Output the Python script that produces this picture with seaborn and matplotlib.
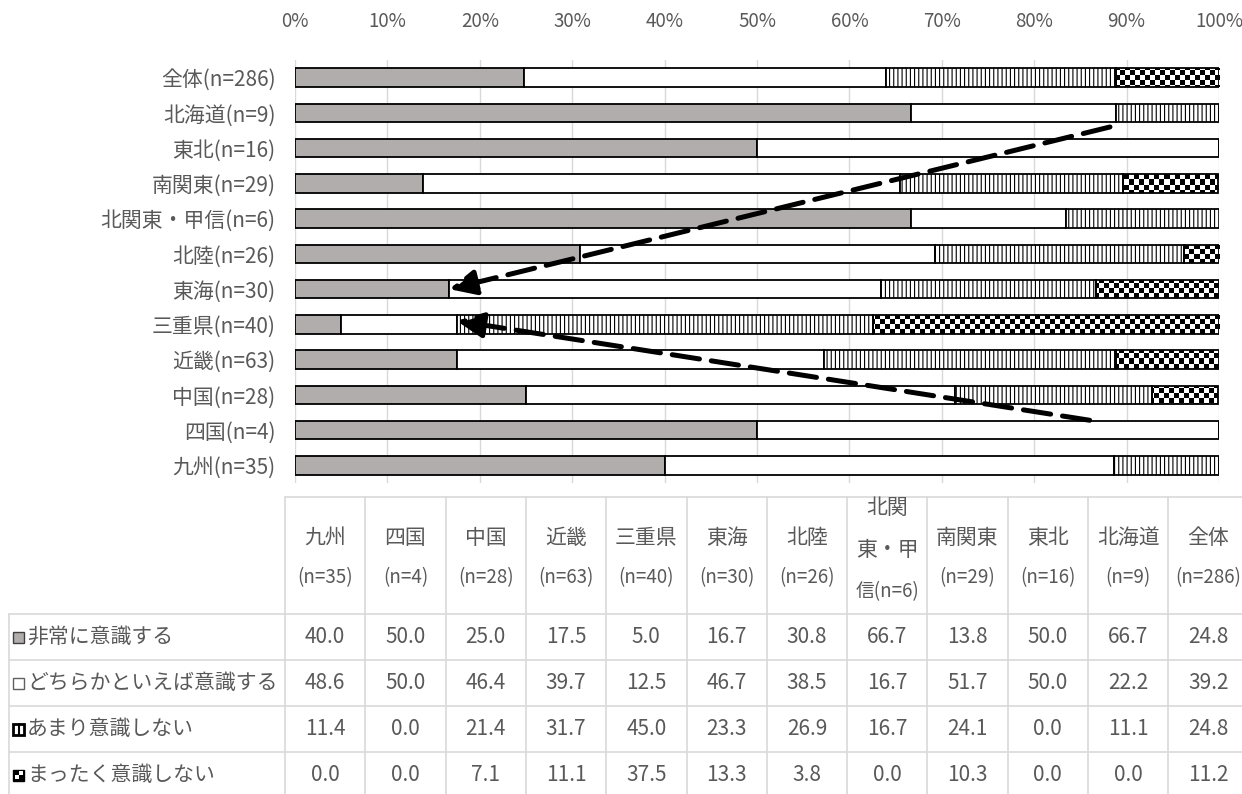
import numpy as np
import pandas as pd
import matplotlib
matplotlib.use("Agg")
import matplotlib.pyplot as plt
from matplotlib.patches import Rectangle
from matplotlib.lines import Line2D
import seaborn as sns

# Regions in table column order; the bar chart lists them in reverse
regions = ["九州", "四国", "中国", "近畿", "三重県", "東海", "北陸",
           "北関東・甲信", "南関東", "東北", "北海道", "全体"]
sample_sizes = [35, 4, 28, 63, 40, 30, 26, 6, 29, 16, 9, 286]

answer_labels = ["非常に意識する", "どちらかといえば意識する",
                 "あまり意識しない", "まったく意識しない"]
very_conscious = [40.0, 50.0, 25.0, 17.5, 5.0, 16.7, 30.8, 66.7, 13.8, 50.0, 66.7, 24.8]
somewhat_conscious = [48.6, 50.0, 46.4, 39.7, 12.5, 46.7, 38.5, 16.7, 51.7, 50.0, 22.2, 39.2]
rarely_conscious = [11.4, 0.0, 21.4, 31.7, 45.0, 23.3, 26.9, 16.7, 24.1, 0.0, 11.1, 24.8]
never_conscious = [0.0, 0.0, 7.1, 11.1, 37.5, 13.3, 3.8, 0.0, 10.3, 0.0, 0.0, 11.2]

pct_ticks = [0, 10, 20, 30, 40, 50, 60, 70, 80, 90, 100]
pct_tick_labels = [f"{t}%" for t in pct_ticks]

series = [very_conscious, somewhat_conscious, rarely_conscious, never_conscious]

sns.set_theme(style="white")
plt.rcParams["font.family"] = ["Noto Sans CJK JP", "DejaVu Sans"]
plt.rcParams["hatch.linewidth"] = 0.8
plt.rcParams["hatch.color"] = "black"

TXT = "#595959"
GRID = "#d9d9d9"
GRAY = "#b1adac"
FS = 15
FS_SMALL = 13.5
W, H = 1242, 794

def fx(px):
    return px / W

def fy(py):
    return 1 - py / H

fig = plt.figure(figsize=(W / 100, H / 100), dpi=100)
ax = fig.add_axes([fx(295), fy(483), (1219 - 295) / W, (483 - 60) / H])

# bar chart frame: one row per region, top to bottom 全体 ... 九州
row_labels = [f"{r}(n={n})" for r, n in zip(regions, sample_sizes)][::-1]
df = pd.DataFrame({"label": row_labels})
for name, vals in zip(answer_labels, series):
    df[name] = vals[::-1]

left = np.zeros(len(df))
styles = [
    dict(color=GRAY),
    dict(color="white"),
    dict(color="white", hatch="||||"),
    dict(color="white"),
]
for name, st in zip(answer_labels, styles):
    sns.barplot(data=df, x=name, y="label", orient="h", left=left,
                width=0.52, saturation=1, errorbar=None,
                edgecolor="black", linewidth=1.3, ax=ax, zorder=3, **st)
    left = left + df[name].to_numpy()

# checkerboard fill for the last answer, clipped to each bar
n_x, n_y = 185, 85
checker = (np.add.outer(np.arange(n_y), np.arange(n_x)) % 2).astype(float)
for patch in ax.containers[-1].patches:
    patch.set_facecolor("none")
    im = ax.imshow(checker, cmap="gray_r", vmin=0, vmax=1, aspect="auto",
                   interpolation="nearest", extent=(0, 100, 11.5, -0.5),
                   zorder=2)
    im.set_clip_path(patch)

ax.set_xlim(0, 100)
ax.set_ylim(11.5, -0.5)
ax.set_xlabel("")
ax.set_ylabel("")
ax.xaxis.tick_top()
ax.set_xticks(pct_ticks)
ax.set_xticklabels(pct_tick_labels)
ax.tick_params(axis="x", length=0, pad=20, labelsize=FS_SMALL, labelcolor=TXT)
ax.tick_params(axis="y", length=0, pad=14, labelsize=FS, labelcolor=TXT)
ax.grid(axis="x", color=GRID, lw=1)
ax.set_axisbelow(True)
for s in ax.spines.values():
    s.set_visible(False)

# dashed arrows pointing at 東海 and 三重県
row_of = {lab.split("(")[0]: i for i, lab in enumerate(row_labels)}
i_tokai = regions.index("東海")
i_mie = regions.index("三重県")
arrow_kw = dict(arrowstyle="-|>,head_length=0.8,head_width=0.38",
                mutation_scale=20, lw=3.6, color="black",
                linestyle=(0, (5.5, 2.4)), shrinkA=0, shrinkB=0)
ax.annotate("", xy=(very_conscious[i_tokai], row_of["東海"]),
            xytext=(88.2, 1.4), arrowprops=arrow_kw, zorder=6)
ax.annotate("", xy=(very_conscious[i_mie] + somewhat_conscious[i_mie], row_of["三重県"] - 0.1),
            xytext=(86.0, 9.72), arrowprops=arrow_kw, zorder=6)

# data table below the chart
col_x0, col_w = 285, 80.3
row_edges = [614, 660, 706, 752, 798]

def hline(y, x0, x1):
    fig.add_artist(Line2D([fx(x0), fx(x1)], [fy(y), fy(y)],
                          transform=fig.transFigure, color=GRID, lw=1.2))

def vline(x, y0, y1):
    fig.add_artist(Line2D([fx(x), fx(x)], [fy(y0), fy(y1)],
                          transform=fig.transFigure, color=GRID, lw=1.2))

hline(497, col_x0, W)
for y in row_edges:
    hline(y, 9, W)
vline(9, 614, 798)
for k in range(len(regions) + 1):
    vline(col_x0 + k * col_w, 497, 798)

for k, (r, n) in enumerate(zip(regions, sample_sizes)):
    cx = col_x0 + (k + 0.5) * col_w
    if len(r) > 3:
        lines = [r[:2], r[2:5], r[5:] + f"(n={n})"]
        ys = [508, 550, 592]
        sizes = [FS, FS, FS_SMALL]
    else:
        lines = [r, f"(n={n})"]
        ys = [538, 578]
        sizes = [FS, FS_SMALL]
    for t, y, s in zip(lines, ys, sizes):
        fig.text(fx(cx), fy(y), t, ha="center", va="center", fontsize=s, color=TXT)

for j, (name, vals) in enumerate(zip(answer_labels, series)):
    cy = (row_edges[j] + row_edges[j + 1]) / 2
    fig.text(fx(27), fy(cy), name, ha="left", va="center", fontsize=FS, color=TXT)
    for k, v in enumerate(vals):
        cx = col_x0 + (k + 0.5) * col_w
        fig.text(fx(cx), fy(cy), f"{v:.1f}", ha="center", va="center", fontsize=FS, color=TXT)
    # legend key in front of each answer label
    kx, ky, ks = 13, cy - 5.5, 11
    if j == 0:
        fig.add_artist(Rectangle((fx(kx), fy(ky + ks)), ks / W, ks / H, transform=fig.transFigure,
                                 facecolor=GRAY, edgecolor="#404040", lw=1))
    elif j == 1:
        fig.add_artist(Rectangle((fx(kx), fy(ky + ks)), ks / W, ks / H, transform=fig.transFigure,
                                 facecolor="white", edgecolor="#606060", lw=1))
    elif j == 2:
        fig.add_artist(Rectangle((fx(kx), fy(ky + ks)), ks / W, ks / H, transform=fig.transFigure,
                                 facecolor="white", edgecolor="black", lw=2))
        fig.add_artist(Line2D([fx(kx + ks / 2)] * 2, [fy(ky), fy(ky + ks)],
                              transform=fig.transFigure, color="black", lw=1.5))
    else:
        fig.add_artist(Rectangle((fx(kx), fy(ky + ks)), ks / W, ks / H, transform=fig.transFigure,
                                 facecolor="black", edgecolor="black", lw=1))
        for dx, dy in [(ks / 2, 1.5), (1.5, ks / 2)]:
            fig.add_artist(Rectangle((fx(kx + dx), fy(ky + dy + 4)), 4 / W, 4 / H,
                                     transform=fig.transFigure, facecolor="white", lw=0))

fig.savefig("out.png", dpi=100)
